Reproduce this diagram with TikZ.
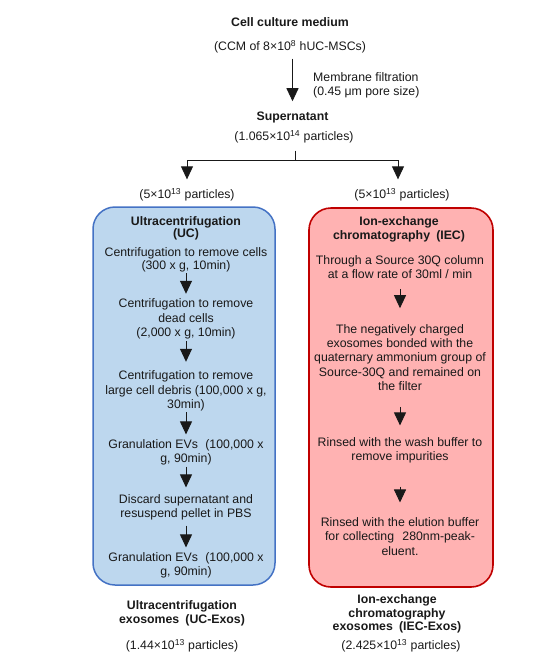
\documentclass[tikz,border=0pt]{standalone}
\usepackage{fontspec}
\setmainfont{Liberation Sans}
\usetikzlibrary{arrows.meta}
\definecolor{ucfill}{RGB}{189,215,238}
\definecolor{ucline}{RGB}{68,114,196}
\definecolor{iefill}{RGB}{255,178,178}
\definecolor{ieline}{RGB}{192,0,0}
\definecolor{ink}{RGB}{25,25,25}
\begin{document}
\begin{tikzpicture}[x=1pt,y=-1pt,
  txt/.style={inner sep=0pt, align=center, text=ink, font=\fontsize{12.3}{14.3}\selectfont},
  btxt/.style={txt, font=\fontsize{12.3}{14.3}\selectfont\bfseries},
  arr/.style={draw=ink, line width=0.9pt, -{Triangle[width=12pt,length=13pt]}},
  plainline/.style={draw=ink, line width=0.9pt},
  ucbox/.style={draw=ucline, fill=ucfill, line width=1.5pt, rounded corners=22pt, minimum width=182pt, minimum height=378pt, inner sep=0pt},
  iebox/.style={draw=ieline, fill=iefill, line width=1.6pt, rounded corners=22pt, minimum width=184pt, minimum height=379pt, inner sep=0pt}]
\useasboundingbox (0,0) rectangle (543,670);

% top
\node[btxt] (ccm) at (290,22) {Cell culture medium};
\node[txt] (ccmn) at (290,47) {(CCM of 8×10\textsuperscript{8} hUC-MSCs)};
\node[txt, anchor=west, align=left] (mf) at (313,85) {Membrane filtration\\(0.45 μm pore size)};
\node[btxt] (sup) at (292.5,117) {Supernatant};
\node[txt] (supn) at (294,137) {(1.065×10\textsuperscript{14} particles)};
\coordinate (split) at (295,160);
\node[txt] (p5l) at (187,195) {(5×10\textsuperscript{13} particles)};
\node[txt] (p5r) at (402,195) {(5×10\textsuperscript{13} particles)};

% boxes
\node[ucbox] (ucb) at (184,396) {};
\node[iebox] (ieb) at (401,397.5) {};

% UC column
\node[btxt] (uct) at (186,228) {Ultracentrifugation\\[-2pt](UC)};
\node[txt] (u1) at (186,259.5) {Centrifugation to remove cells\\[-1pt](300 x g, 10min)};
\node[txt] (u2) at (186,319) {Centrifugation to remove\\dead cells\\(2,000 x g, 10min)};
\node[txt] (u3) at (186,391) {Centrifugation to remove\\large cell debris (100,000 x g,\\30min)};
\node[txt] (u4) at (186,452.5) {Granulation EVs\hspace{0.6em}(100,000 x\\g, 90min)};
\node[txt] (u5) at (186,507.5) {Discard supernatant and\\resuspend pellet in PBS};
\node[txt] (u6) at (186,565.5) {Granulation EVs\hspace{0.6em}(100,000 x\\g, 90min)};

% IEC column
\node[btxt] (iet) at (399,229.5) {Ion-exchange\\chromatography\hspace{0.5em}(IEC)};
\node[txt] (r1) at (400,267) {Through a Source 30Q column\\at a flow rate of 30ml / min};
\node[txt] (r2) at (400,357.5) {The negatively charged\\exosomes bonded with the\\quaternary ammonium group of\\Source-30Q and remained on\\the filter};
\node[txt] (r3) at (400,450.5) {Rinsed with the wash buffer to\\remove impurities};
\node[txt] (r4) at (400,536.5) {Rinsed with the elution buffer\\for collecting\hspace{0.4em} 280nm-peak-\\eluent.};

% bottom
\node[btxt] (ucx) at (182,613.5) {Ultracentrifugation\\exosomes\hspace{0.5em}(UC-Exos)};
\node[txt] (ucp) at (182,646) {(1.44×10\textsuperscript{13} particles)};
\node[btxt] (iex) at (397,614) {Ion-exchange\\[-1pt]chromatography\\[-1pt]exosomes\hspace{0.5em}(IEC-Exos)};
\node[txt] (iep) at (401,646) {(2.425×10\textsuperscript{13} particles)};

% connectors
\draw[arr, shorten <=5pt, shorten >=10pt] (sup.north |- ccmn.south) -- (sup.north);
\draw[plainline, shorten <=7pt] (supn.south -| split) -- (split);
\draw[arr, shorten >=9pt] (split) -| (p5l.north);
\draw[arr, shorten >=9pt] (split) -| ([xshift=-4pt]p5r.north);

\draw[arr, shorten <=1pt, shorten >=5pt] (u1) -- (u2);
\draw[arr, shorten <=2pt, shorten >=9pt] (u2) -- (u3);
\draw[arr, shorten <=1pt, shorten >=5pt] (u3) -- (u4);
\draw[arr, shorten <=1pt, shorten >=7pt] (u4) -- (u5);
\draw[arr, shorten <=5pt, shorten >=5pt] (u5) -- (u6);

\draw[arr, shorten <=10pt, shorten >=16pt] (r1) -- (r2);
\draw[arr, shorten <=16pt, shorten >=12pt] (r2) -- (r3);
\draw[arr, shorten <=23pt, shorten >=15pt] (r3) -- (r4);
\end{tikzpicture}
\end{document}
